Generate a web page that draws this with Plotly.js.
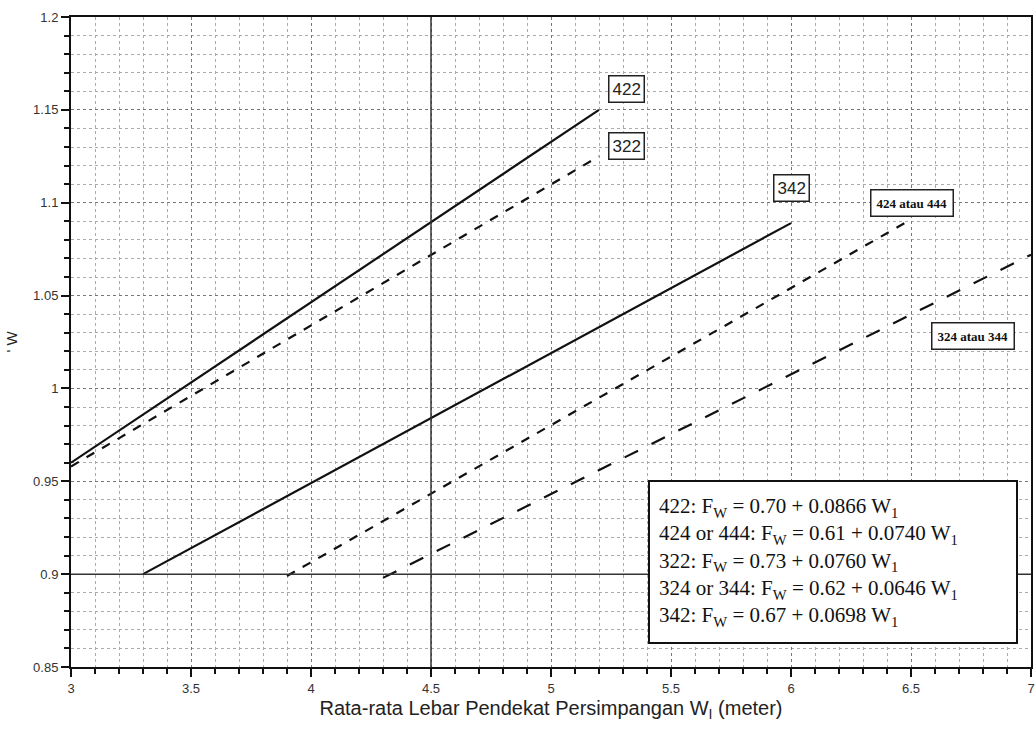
<!DOCTYPE html>
<html>
<head>
<meta charset="utf-8">
<script src="https://cdn.plot.ly/plotly-3.0.1.min.js"></script>
<style>html,body{margin:0;padding:0;background:#fff;}#chart{width:1036px;height:731px;}</style>
</head>
<body>
<div id="chart"></div>
<script>
// Data
const x422 = [3.0, 5.2];
const y422 = [0.960, 1.150];
const x322 = [3.0, 5.2];
const y322 = [0.958, 1.125];
const x342 = [3.3, 6.0];
const y342 = [0.900, 1.089];
const x424 = [3.9, 6.5];
const y424 = [0.899, 1.091];
const x324 = [4.3, 7.0];
const y324 = [0.898, 1.072];

const xTickVals = [3, 3.5, 4, 4.5, 5, 5.5, 6, 6.5, 7];
const xTickText = ["3", "3.5", "4", "4.5", "5", "5.5", "6", "6.5", "7"];
const yTickVals = [0.85, 0.9, 0.95, 1, 1.05, 1.1, 1.15, 1.2];
const yTickText = ["0.85", "0.9", "0.95", "1", "1.05", "1.1", "1.15", "1.2"];

const equations = [
  "422: F<sub>W</sub> = 0.70 + 0.0866 W<sub>1</sub>",
  "424 or 444: F<sub>W</sub> = 0.61 + 0.0740 W<sub>1</sub>",
  "322: F<sub>W</sub> = 0.73 + 0.0760 W<sub>1</sub>",
  "324 or 344: F<sub>W</sub> = 0.62 + 0.0646 W<sub>1</sub>",
  "342: F<sub>W</sub> = 0.67 + 0.0698 W<sub>1</sub>"
];

const line = (x, y, dash) => ({
  x: x, y: y, type: 'scatter', mode: 'lines',
  line: {color: '#111', width: 2.2, dash: dash},
  showlegend: false, hoverinfo: 'skip'
});

const traces = [
  line(x422, y422, 'solid'),
  line(x322, y322, 'dash'),
  line(x342, y342, 'solid'),
  line(x424, y424, 'dash'),
  line(x324, y324, 'longdash')
];

const boxLabel = (x, y, text, font, pad) => ({
  x: x, y: y, xref: 'x', yref: 'y', text: text, showarrow: false,
  font: font, bgcolor: '#fff', bordercolor: '#222', borderwidth: 1.5, borderpad: pad
});

const sansLbl = {family: 'Liberation Sans, Arial, sans-serif', size: 17, color: '#222'};
const serifLbl = {family: 'Liberation Serif, Times New Roman, serif', size: 13, color: '#111', weight: 'bold'};

const layout = {
  width: 1036, height: 731,
  margin: {l: 71, r: 5, t: 17, b: 64},
  paper_bgcolor: '#fff', plot_bgcolor: '#fff',
  font: {family: 'Liberation Sans, Arial, sans-serif', color: '#333'},
  xaxis: {
    range: [3, 7], tickvals: xTickVals, ticktext: xTickText,
    ticks: 'outside', ticklen: 8, tickwidth: 2, tickcolor: '#111',
    tickfont: {size: 13, color: '#333'},
    showline: true, linecolor: '#111', linewidth: 2, mirror: true,
    showgrid: true, gridcolor: '#777', griddash: 'dot', gridwidth: 1,
    zeroline: false,
    minor: {dtick: 0.1, ticks: 'outside', ticklen: 5, tickwidth: 2, tickcolor: '#111',
            showgrid: true, gridcolor: '#aaa', griddash: 'dot', gridwidth: 1},
    title: {text: 'Rata-rata Lebar Pendekat Persimpangan W<sub>I</sub> (meter)',
            font: {size: 20, color: '#222'}, standoff: 6}
  },
  yaxis: {
    range: [0.85, 1.2], tickvals: yTickVals, ticktext: yTickText,
    ticks: 'outside', ticklen: 8, tickwidth: 2, tickcolor: '#111',
    tickfont: {size: 13, color: '#333'},
    showline: true, linecolor: '#111', linewidth: 2, mirror: true,
    showgrid: true, gridcolor: '#777', griddash: 'dot', gridwidth: 1,
    zeroline: false,
    minor: {dtick: 0.01, ticks: 'outside', ticklen: 5, tickwidth: 2, tickcolor: '#111',
            showgrid: true, gridcolor: '#aaa', griddash: 'dot', gridwidth: 1},
    title: {text: "' W", font: {size: 15, color: '#222'}, standoff: 12}
  },
  shapes: [
    {type: 'line', xref: 'x', yref: 'paper', x0: 4.5, x1: 4.5, y0: 0, y1: 1,
     line: {color: '#333', width: 1.5}},
    {type: 'line', xref: 'paper', yref: 'y', x0: 0, x1: 1, y0: 0.9, y1: 0.9,
     line: {color: '#333', width: 1.5}}
  ],
  annotations: [
    boxLabel(5.315, 1.161, '422', sansLbl, 3),
    boxLabel(5.315, 1.1306, '322', sansLbl, 3),
    boxLabel(6.002, 1.108, '342', sansLbl, 3),
    boxLabel(6.506, 1.100, '424 atau 444', serifLbl, 5),
    boxLabel(6.758, 1.0285, '324 atau 344', serifLbl, 5),
    {
      x: 6.175, y: 0.9068, xref: 'x', yref: 'y', showarrow: false,
      text: equations.join('<br>'), align: 'left', valign: 'middle',
      width: 348, height: 142,
      font: {family: 'Liberation Serif, Times New Roman, serif', size: 21, color: '#111'},
      bgcolor: '#fff', bordercolor: '#111', borderwidth: 2, borderpad: 9
    }
  ]
};

Plotly.newPlot('chart', traces, layout, {staticPlot: true, displayModeBar: false});
</script>
</body>
</html>
